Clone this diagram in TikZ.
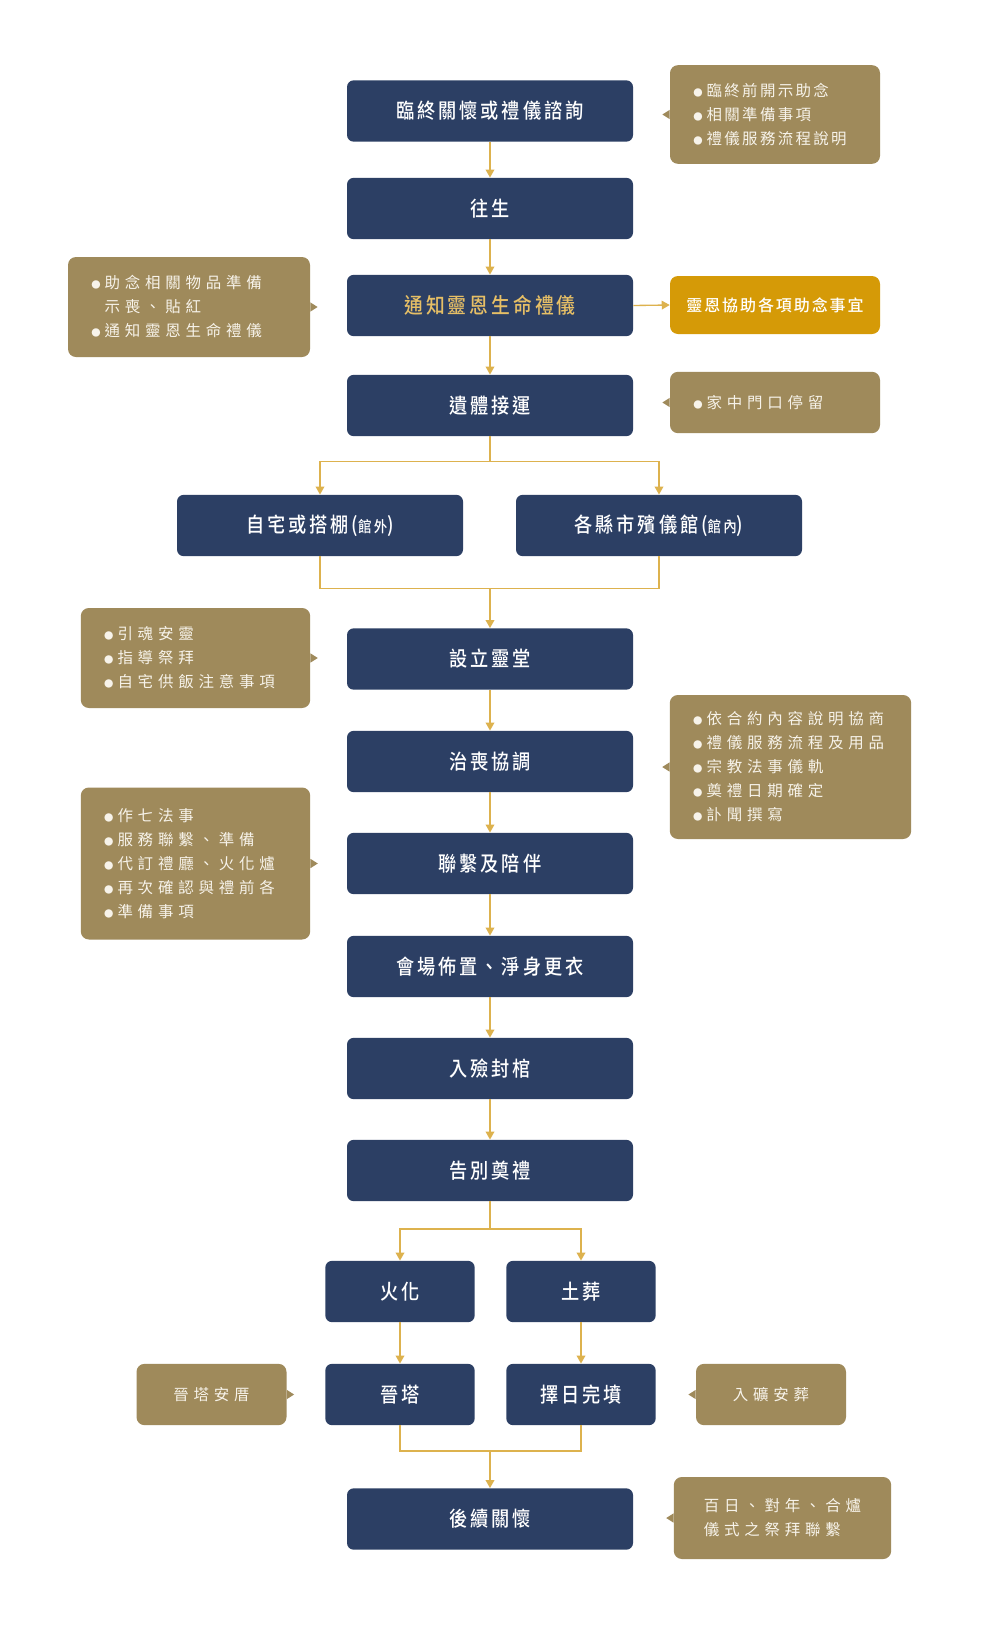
\documentclass[tikz,border=0pt]{standalone}
\usepackage{fontspec}
\setmainfont{Noto Sans CJK TC}
\newfontfamily\mainf{Noto Sans CJK TC}[UprightFont={* Medium}, FakeStretch=0.88, LetterSpace=14]
\newfontfamily\notef{Noto Sans CJK TC}[LetterSpace=15]
\newfontfamily\notefw{Noto Sans CJK TC}[LetterSpace=31]
\newfontfamily\orf{Noto Sans CJK TC}[UprightFont={* Medium}, LetterSpace=12]
\usetikzlibrary{arrows.meta}
\definecolor{navy}{HTML}{2C3F64}
\definecolor{notecol}{HTML}{9F8A5B}
\definecolor{orcol}{HTML}{D59A07}
\definecolor{arrcol}{HTML}{DDB24E}
\definecolor{goldtxt}{HTML}{E6BF66}
\definecolor{notetxt}{HTML}{F7F3EA}
\newcommand\bul{{\fontsize{7}{7}\selectfont ●}\hspace{3pt}}
\newcommand\bulsp{\phantom{\bul}}
\newcommand\ptrW[1]{\fill[notecol] ([yshift=3.5pt]#1.west) -- ([xshift=-5.5pt]#1.west) -- ([yshift=-3.5pt]#1.west) -- cycle;}
\newcommand\ptrE[1]{\fill[notecol] ([yshift=3.5pt]#1.east) -- ([xshift=5.5pt]#1.east) -- ([yshift=-3.5pt]#1.east) -- cycle;}
\begin{document}
\begin{tikzpicture}[x=0.75pt,y=-0.75pt,
 mainbox/.style={fill=navy, rounded corners=5pt, minimum width=214.5pt, minimum height=46pt, inner sep=0pt, text=white, font=\mainf\fontsize{15.5}{18}\selectfont},
 smallbox/.style={mainbox, minimum width=112pt},
 note/.style={fill=notecol, rounded corners=6pt, inner xsep=17.5pt, inner ysep=0pt, text=notetxt, align=left, font=\notefw\fontsize{11.6}{18}\selectfont},
 orbox/.style={fill=orcol, rounded corners=6pt, inner sep=0pt, text=white, font=\orf\fontsize{12}{14}\selectfont, minimum width=157.5pt, minimum height=43.5pt},
 conn/.style={draw=arrcol, line width=1pt},
 arr/.style={conn, -{Triangle[width=6.5pt,length=6pt]}},
]
\fill[white] (0,0) rectangle (1000,1635);
\useasboundingbox (0,0) rectangle (1000,1635);

% main column
\node[mainbox] (b1) at (490,111) {臨終關懷或禮儀諮詢};
\node[mainbox] (b2) at (490,208.5) {往生};
\node[mainbox, text=goldtxt, font=\mainf\fontsize{16}{18}\selectfont] (b3) at (490,305.5) {通知靈恩生命禮儀};
\node[mainbox] (b4) at (490,405.5) {遺體接運};
\node[mainbox] (b5) at (320,525.5) {自宅或搭棚({\fontsize{11.5}{12}\selectfont 館外})};
\node[mainbox] (b6) at (659,525.5) {各縣市殯儀館({\fontsize{11.5}{12}\selectfont 館內})};
\node[mainbox] (b7) at (490,659) {設立靈堂};
\node[mainbox] (b8) at (490,761.5) {治喪協調};
\node[mainbox] (b9) at (490,863.5) {聯繫及陪伴};
\node[mainbox] (b10) at (490,966.5) {會場佈置、淨身更衣};
\node[mainbox] (b11) at (490,1068.5) {入殮封棺};
\node[mainbox] (b12) at (490,1170.5) {告別奠禮};
\node[smallbox] (b13) at (400,1291.5) {火化};
\node[smallbox] (b14) at (581,1291.5) {土葬};
\node[smallbox] (b15) at (400,1394.5) {晉塔};
\node[smallbox] (b16) at (581,1394.5) {擇日完墳};
\node[mainbox] (b17) at (490,1519) {後續關懷};

% notes
\node[note, font=\notef\fontsize{11.6}{18}\selectfont, minimum width=157.5pt, minimum height=74pt, text width=122.5pt] (n1) at (775,114.5)
 {\bul 臨終前開示助念\\\bul 相關準備事項\\\bul 禮儀服務流程說明};
\ptrW{n1}
\node[orbox] (or) at (775,305) {靈恩協助各項助念事宜};
\node[note, minimum width=181.5pt, minimum height=75pt, text width=146.5pt] (nl1) at (189,307)
 {\bul 助念相關物品準備\\\bulsp 示喪、貼紅\\\bul 通知靈恩生命禮儀};
\ptrE{nl1}
\node[note, minimum width=157.5pt, minimum height=46pt, text width=122.5pt] (n4) at (775,402.5)
 {\bul 家中門口停留};
\ptrW{n4}
\node[note, minimum width=172pt, minimum height=75pt, text width=137pt] (nl2) at (195.5,658)
 {\bul 引魂安靈\\\bul 指導祭拜\\\bul 自宅供飯注意事項};
\ptrE{nl2}
\node[note, minimum width=181pt, minimum height=108pt, text width=146pt] (nr3) at (790.5,767)
 {\bul 依合約內容說明協商\\\bul 禮儀服務流程及用品\\\bul 宗教法事儀軌\\\bul 奠禮日期確定\\\bul 訃聞撰寫};
\ptrW{nr3}
\node[note, minimum width=172pt, minimum height=114pt, text width=137pt] (nl3) at (195.5,863.5)
 {\bul 作七法事\\\bul 服務聯繫、準備\\\bul 代訂禮廳、火化爐\\\bul 再次確認與禮前各\\\bul 準備事項};
\ptrE{nl3}
\node[note, inner xsep=0pt, minimum width=112.5pt, minimum height=46pt] (nl4) at (211.5,1394.5) {晉塔安厝};
\ptrE{nl4}
\node[note, inner xsep=0pt, minimum width=112.5pt, minimum height=46pt] (nr4) at (771,1394.5) {入礦安葬};
\ptrW{nr4}
\node[note, inner xsep=0pt, minimum width=163pt, minimum height=61.5pt] (nr5) at (782.5,1518)
 {百日、對年、合爐\\儀式之祭拜聯繫};
\ptrW{nr5}

% connectors
\draw[arr] (b1.south) -- (b2.north);
\draw[arr] (b2.south) -- (b3.north);
\draw[arr] (b3.south) -- (b4.north);
\draw[arr] (b3.east) -- (or.west);
\coordinate (s1) at (490,461.5);
\draw[conn] (b4.south) -- (s1);
\draw[arr] (s1) -| (b5.north);
\draw[arr] (s1) -| (b6.north);
\coordinate (m1) at (490,588.5);
\draw[conn] (b5.south) |- (m1);
\draw[conn] (b6.south) |- (m1);
\draw[arr] (m1) -- (b7.north);
\draw[arr] (b7.south) -- (b8.north);
\draw[arr] (b8.south) -- (b9.north);
\draw[arr] (b9.south) -- (b10.north);
\draw[arr] (b10.south) -- (b11.north);
\draw[arr] (b11.south) -- (b12.north);
\coordinate (s2) at (490,1229);
\draw[conn] (b12.south) -- (s2);
\draw[arr] (s2) -| (b13.north);
\draw[arr] (s2) -| (b14.north);
\draw[arr] (b13.south) -- (b15.north);
\draw[arr] (b14.south) -- (b16.north);
\coordinate (m2) at (490,1451);
\draw[conn] (b15.south) |- (m2);
\draw[conn] (b16.south) |- (m2);
\draw[arr] (m2) -- (b17.north);
\end{tikzpicture}
\end{document}
